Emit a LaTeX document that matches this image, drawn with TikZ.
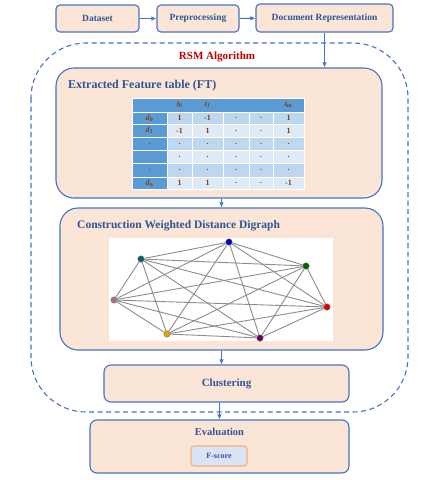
\documentclass[tikz,border=0pt]{standalone}
\usepackage{fontspec}
\setmainfont{Liberation Serif}
\usetikzlibrary{arrows.meta}
\definecolor{bl}{HTML}{4472C4}
\definecolor{peach}{HTML}{FBE5D6}
\definecolor{tb}{HTML}{2F5597}
\definecolor{rsm}{HTML}{C00000}
\definecolor{hdr}{HTML}{5B9BD5}
\definecolor{rowa}{HTML}{BDD7EE}
\definecolor{rowb}{HTML}{DEEBF7}
\definecolor{brn}{HTML}{843C0C}
\definecolor{fsc}{HTML}{DAE3F3}
\definecolor{fsb}{HTML}{F4B183}
\tikzset{
  box/.style={draw=bl, line width=1.1pt, fill=peach, inner sep=0pt},
  topbox/.style={box, rounded corners=4pt, font=\fontsize{9.5}{11}\selectfont\bfseries, text=tb},
  bigbox/.style={box, rounded corners=18pt},
  midbox/.style={box, rounded corners=7pt},
  arr/.style={draw=bl, line width=1.1pt, -{Latex[length=5pt,width=4.5pt]}},
  ttl/.style={text=tb, font=\bfseries, inner sep=0pt},
  cellt/.style={text=brn, font=\fontsize{8}{9}\selectfont\bfseries, inner sep=0pt},
  gnode/.style={circle, inner sep=0pt, minimum size=6.5pt, draw=black!60, line width=0.3pt},
  gedge/.style={draw=black!45, line width=0.9pt}
}
\begin{document}
\begin{tikzpicture}[x=1pt,y=-1pt]
\useasboundingbox (0,0) rectangle (423,480);
% dashed region
\draw[bl, line width=1.1pt, dash pattern=on 5pt off 3.5pt, rounded corners=55pt] (31,43) rectangle (408,412);
\node[text=rsm, font=\fontsize{11}{13}\selectfont\bfseries] (rsm) at (217,57) {RSM Algorithm};
% top boxes
\node[topbox, minimum width=83pt, minimum height=27pt] (ds) at (97.5,18.5) {Dataset};
\node[topbox, minimum width=82pt, minimum height=27pt] (pp) at (198,18.5) {Preprocessing};
\node[topbox, minimum width=137pt, minimum height=28pt] (dr) at (324.5,18) {Document Representation};
\draw[arr] (ds) -- (pp);
\draw[arr] (pp) -- (dr);
% FT box
\node[bigbox, minimum width=326pt, minimum height=130pt] (ft) at (219,133) {};
\node[ttl, anchor=west, font=\fontsize{12}{14}\selectfont\bfseries] (ftt) at (68,86) {Extracted Feature table (FT)};
\draw[arr] (dr.south) -- (dr.south |- ft.north);
% table
\foreach \r/\ya/\yb in {1/112/124,2/124/137,3/137/150,4/150/163,5/163/177,6/177/189}{
  \foreach \c/\xa/\xb in {0/132/167,1/167/192,2/192/223,3/223/249,4/249/273,5/273/304}{
    \pgfmathsetmacro{\cc}{(\c==0) ? 0 : (mod(\r,2)==1 ? 1 : 2)}
    \ifnum\cc=0 \def\fc{hdr}\else\ifnum\cc=1 \def\fc{rowa}\else\def\fc{rowb}\fi\fi
    \fill[\fc, draw=white, line width=0.8pt] (\xa,\ya) rectangle (\xb,\yb);
  }
}
\fill[hdr, draw=white, line width=0.8pt] (132,98) rectangle (304,112);
% header
\node[cellt] (h1) at (179.5,105) {\textit{t}\textsubscript{0}};
\node[cellt] (h2) at (207.5,105) {\textit{t}\textsubscript{1}};
\node[cellt] (h5) at (288.5,105) {\textit{t}\textsubscript{m}};
% rows
\foreach \y/\a/\b/\c/\d/\e/\f/\n in {118/{\textit{d}\textsubscript{0}}/1/-1/././1/1,
                                    130.5/{\textit{d}\textsubscript{1}}/-1/1/././1/2,
                                    143.5/././././././3,
                                    156.5/{}/./././././4,
                                    170/././././././5,
                                    183/{\textit{d}\textsubscript{n}}/1/1/././-1/6}{
  \node[cellt] (c\n a) at (149.5,\y) {\a};
  \node[cellt] (c\n b) at (179.5,\y) {\b};
  \node[cellt] (c\n c) at (207.5,\y) {\c};
  \node[cellt] (c\n d) at (236,\y) {\d};
  \node[cellt] (c\n e) at (261,\y) {\e};
  \node[cellt] (c\n f) at (288.5,\y) {\f};
}
% Digraph box
\node[bigbox, minimum width=323pt, minimum height=142pt] (dg) at (221.5,279) {};
\node[ttl, anchor=west, font=\fontsize{11.5}{14}\selectfont\bfseries] (dgt) at (77,226) {Construction Weighted Distance Digraph};
\draw[arr] (dg.north |- ft.south) -- (dg.north);
\fill[white] (109,238) rectangle (333,341);
\node[gnode, fill={rgb,255:red,0;green,0;blue,210}] (g1) at (229,242) {};
\node[gnode, fill={rgb,255:red,0;green,100;blue,100}] (g2) at (141,259) {};
\node[gnode, fill={rgb,255:red,0;green,100;blue,0}] (g3) at (306,266) {};
\node[gnode, fill={rgb,255:red,230;green,0;blue,0}] (g4) at (327,307) {};
\node[gnode, fill={rgb,255:red,100;green,0;blue,100}] (g5) at (260,338) {};
\node[gnode, fill={rgb,255:red,230;green,160;blue,0}] (g6) at (167,334) {};
\node[gnode, fill={rgb,255:red,175;green,110;blue,125}] (g7) at (114,300) {};
\foreach \a/\b in {1/2,1/3,1/4,1/5,1/6,1/7,2/3,2/4,2/5,2/6,2/7,3/4,3/5,3/6,3/7,4/5,4/6,4/7,5/6,5/7,6/7}{
  \draw[gedge] (g\a) -- (g\b);
}
% Clustering
\node[midbox, minimum width=245pt, minimum height=37pt, text=tb, font=\fontsize{11}{13}\selectfont\bfseries] (cl) at (226.5,383.5) {Clustering};
\draw[arr] (dg.south) -- (dg.south |- cl.north);
% Evaluation
\node[midbox, minimum width=259pt, minimum height=53pt] (ev) at (219.5,446.5) {};
\node[ttl, font=\fontsize{10.5}{12}\selectfont\bfseries] (evt) at (219.5,432) {Evaluation};
\node[draw=fsb, line width=1.1pt, fill=fsc, rounded corners=3pt, minimum width=56pt, minimum height=20pt, inner sep=0pt, text=tb, font=\fontsize{8}{10}\selectfont\bfseries] (fs) at (219,456) {F-score};
\draw[arr] (ev.north |- cl.south) -- (ev.north);
\end{tikzpicture}
\end{document}
